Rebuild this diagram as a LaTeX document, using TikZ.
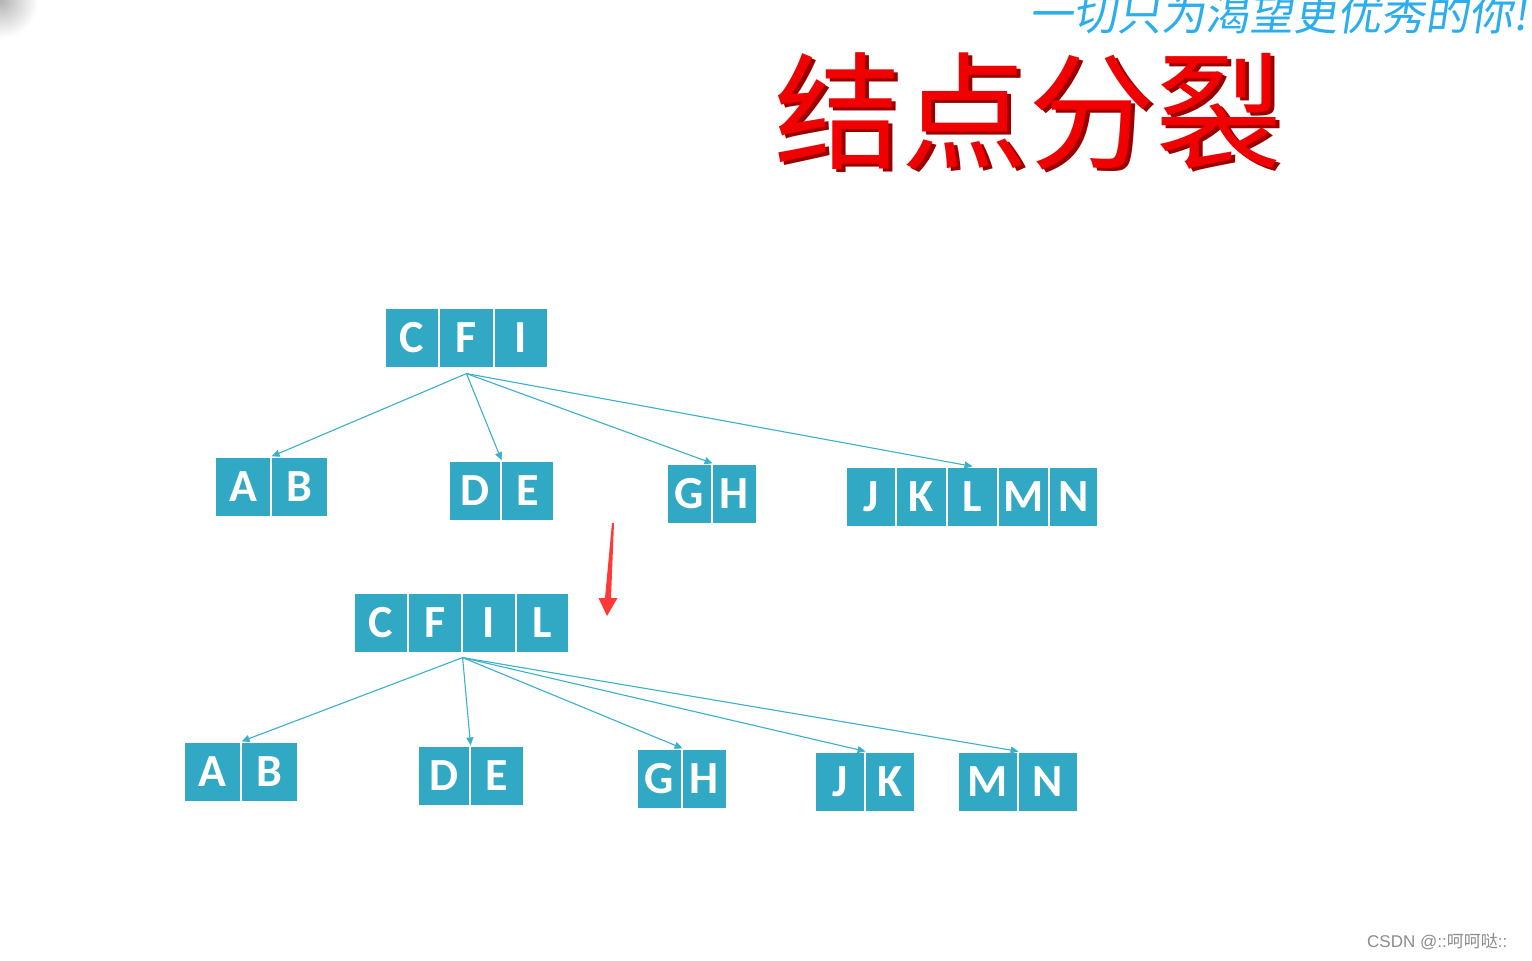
\documentclass[tikz,border=0pt]{standalone}
\usepackage{fontspec}
\usetikzlibrary{arrows.meta}
\setmainfont{Liberation Sans}
\newfontfamily\cjk{Noto Sans CJK SC}
\newfontfamily\cellfont{Carlito}
\definecolor{cellteal}{HTML}{31A8C4}
\definecolor{linkteal}{HTML}{3AB0CC}
\definecolor{titlered}{HTML}{F00000}
\definecolor{titleshade}{HTML}{9A0000}
\definecolor{slogan}{HTML}{2BAEEE}
\definecolor{arrowred}{HTML}{FF3838}
\tikzset{
  cellbox/.style={fill=cellteal, draw=white, line width=1.2pt, inner sep=0pt,
    text=white, font=\cellfont\bfseries\fontsize{46}{46}\selectfont},
  link/.style={draw=linkteal, line width=1.1pt, -{Triangle[length=8pt,width=7pt]}},
}
\newcommand{\mkcell}[6]{\node[cellbox, minimum width={#3-#2}, minimum height={#5-#4}] (#1) at ({(#2+#3)/2},{(#4+#5)/2}) {\raisebox{-5pt}{#6}};}
\begin{document}
\begin{tikzpicture}[x=1pt,y=-1pt]
\clip (0,0) rectangle (1532,961);
\fill[white] (0,0) rectangle (1532,961);
\shade[inner color=black!30, outer color=white] (0,0) circle (38);
% slogan
\node[text=slogan, font=\cjk\fontsize{44}{44}\selectfont, anchor=west, xslant=0.15] (slogan) at (1028,14) {一切只为渴望更优秀的你!};
% title
\node[text=titleshade, font=\cjk\fontsize{127}{127}\selectfont, anchor=west] (titleshadow) at (775,114) {结点分裂};
\node[text=titlered, font=\cjk\fontsize{127}{127}\selectfont, anchor=west] (title) at (771,111) {结点分裂};
% top tree
\mkcell{C1}{385}{439}{308}{368}{C}
\mkcell{F1}{439}{494}{308}{368}{F}
\mkcell{I1}{494}{548}{308}{368}{I}
\mkcell{A1}{215}{271}{457}{517}{A}
\mkcell{B1}{271}{328}{457}{517}{B}
\mkcell{D1}{449}{501}{461}{521}{D}
\mkcell{E1}{501}{554}{461}{521}{E}
\mkcell{G1}{667}{712}{464}{524}{G}
\mkcell{H1}{712}{757}{464}{524}{H}
\mkcell{J1}{846}{896}{467}{527}{J}
\mkcell{K1}{896}{947}{467}{527}{K}
\mkcell{L1}{947}{998}{467}{527}{L}
\mkcell{M1}{998}{1049}{467}{527}{M}
\mkcell{N1}{1049}{1098}{467}{527}{N}
\coordinate (s1) at ([yshift=-5pt]F1.south);
\draw[link] (s1) -- (A1.north east);
\draw[link] (s1) -- (D1.north east);
\draw[link] (s1) -- (G1.north east);
\draw[link] (s1) -- (L1.north);
% red arrow
\fill[arrowred] (612,523) -- (614,523) -- (611,598) -- (617.5,598) -- (607,616) -- (598.5,598) -- (605,598) -- cycle;
% bottom tree
\mkcell{C2}{354}{408}{593}{653}{C}
\mkcell{F2}{408}{462}{593}{653}{F}
\mkcell{I2}{462}{516}{593}{653}{I}
\mkcell{L2}{516}{569}{593}{653}{L}
\mkcell{A2}{184}{241}{742}{802}{A}
\mkcell{B2}{241}{298}{742}{802}{B}
\mkcell{D2}{418}{470}{746}{806}{D}
\mkcell{E2}{470}{524}{746}{806}{E}
\mkcell{G2}{637}{682}{749}{809}{G}
\mkcell{H2}{682}{727}{749}{809}{H}
\mkcell{J2}{815}{865}{752}{812}{J}
\mkcell{K2}{865}{915}{752}{812}{K}
\mkcell{M2}{958}{1018}{752}{812}{M}
\mkcell{N2}{1018}{1078}{752}{812}{N}
\coordinate (s2) at ([yshift=-4pt]F2.south east);
\draw[link] (s2) -- (A2.north east);
\draw[link] (s2) -- (D2.north east);
\draw[link] (s2) -- (G2.north east);
\draw[link] (s2) -- (J2.north east);
\draw[link] (s2) -- (M2.north east);
% watermark
\node[text=black!45, font=\fontsize{17}{17}\selectfont, anchor=west, inner sep=0pt] (mark) at (1367,942) {CSDN @::{\cjk 呵呵哒}::};
\end{tikzpicture}
\end{document}
